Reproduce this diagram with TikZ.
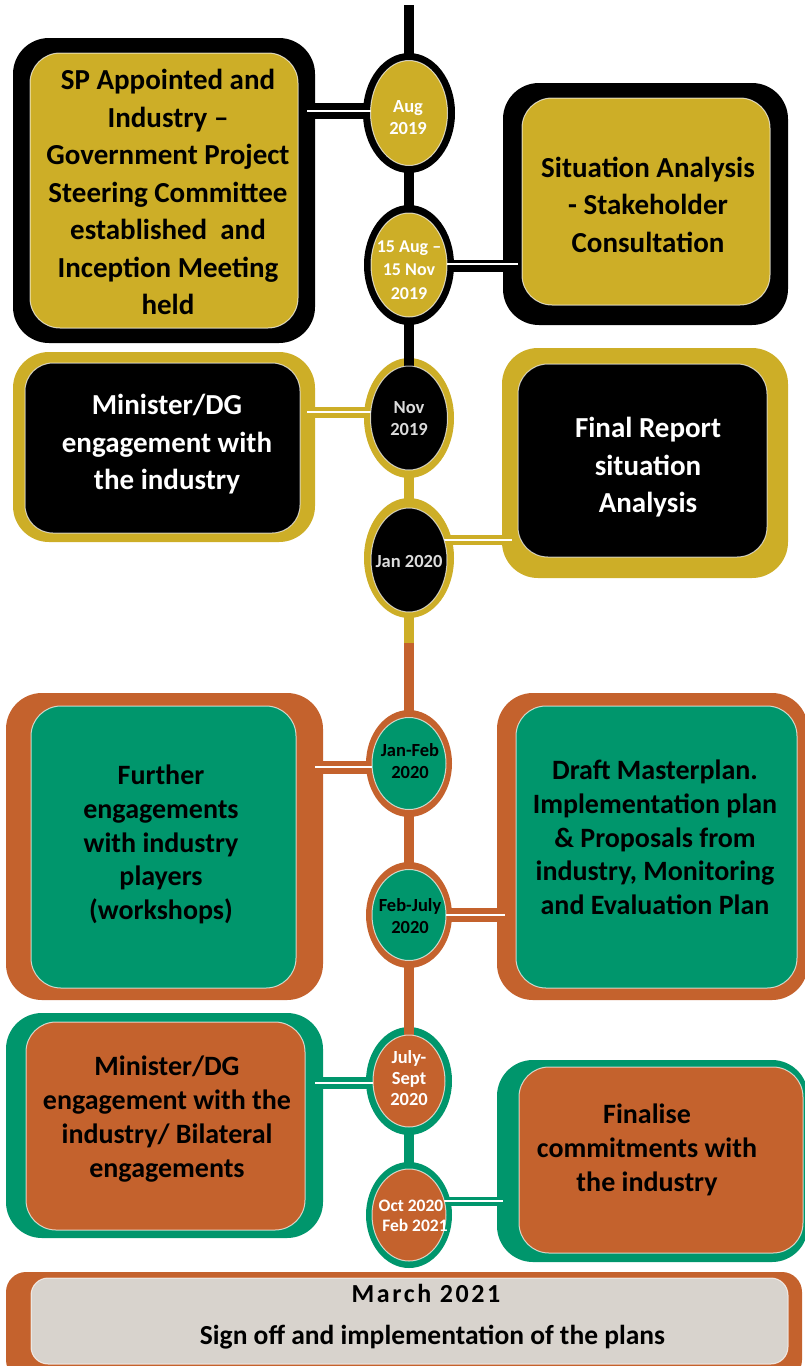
\documentclass[tikz,border=0pt]{standalone}
\usepackage{fontspec}
\setmainfont{Carlito}
\usetikzlibrary{shapes.geometric,calc}
\definecolor{gold}{HTML}{CDAE27}
\definecolor{rust}{HTML}{C4622D}
\definecolor{jade}{HTML}{00966C}
\definecolor{stone}{HTML}{D8D3CD}
\definecolor{pale}{HTML}{DCDCDC}
\begin{document}
\begin{tikzpicture}[x=1pt,y=-1pt,
  frame/.style={rectangle, rounded corners=36pt, inner sep=0pt, draw=none},
  panel/.style={rectangle, rounded corners=30pt, inner sep=0pt, draw=white, draw opacity=0.7, line width=1pt},
  ring/.style={ellipse, inner sep=0pt, draw=none},
  core/.style={ellipse, inner sep=0pt, draw=white, draw opacity=0.7, line width=1pt},
  big/.style={font=\fontsize{29}{37.5}\selectfont\bfseries, align=center, inner sep=0pt},
  mid/.style={font=\fontsize{28}{33.75}\selectfont\bfseries, align=center, inner sep=0pt},
  datetext/.style={font=\fontsize{18.5}{22}\selectfont\bfseries, align=center, inner sep=0pt},
  band/.style={line width=#1},
  wl/.style={draw=white, line width=1.2pt},
  track/.style={line width=10pt}]
\useasboundingbox (0,0) rectangle (805,1366);
\clip (0,0) rectangle (805,1366);

% ---------- outer frames ----------
\node[frame, fill=black, minimum width=302pt, minimum height=305pt] (b1o) at (164,190.5) {};
\node[frame, fill=black, minimum width=285pt, minimum height=242pt] (b2o) at (645.5,204) {};
\node[frame, fill=gold, minimum width=302pt, minimum height=190pt] (b3o) at (164,447) {};
\node[frame, fill=gold, minimum width=286pt, minimum height=230pt] (b4o) at (645,463) {};
\node[frame, fill=rust, minimum width=317pt, minimum height=307pt] (b5o) at (164.5,846.5) {};
\node[frame, fill=rust, minimum width=311pt, minimum height=307pt] (b6o) at (652.5,846.5) {};
\node[frame, fill=jade, minimum width=317pt, minimum height=225pt] (b7o) at (164.5,1125.5) {};
\node[frame, fill=jade, minimum width=311pt, minimum height=202pt] (b8o) at (652.5,1161) {};
\node[frame, rounded corners=20pt, fill=rust, minimum width=796pt, minimum height=108pt] (b9o) at (404,1326) {};

% ---------- outer rings ----------
\node[ring, fill=black, minimum width=92pt, minimum height=120pt] (aug-o) at (409,113) {};
\node[ring, fill=black, minimum width=90pt, minimum height=120pt] (mid-o) at (409,265) {};
\node[ring, fill=gold, minimum width=90pt, minimum height=120pt] (nov-o) at (409,418) {};
\node[ring, fill=gold, minimum width=90pt, minimum height=120pt] (jan-o) at (409,558) {};
\node[ring, fill=rust, minimum width=86pt, minimum height=107pt] (jf-o) at (409,763.5) {};
\node[ring, fill=rust, minimum width=86pt, minimum height=106pt] (fj-o) at (409,915) {};
\node[ring, fill=jade, minimum width=86pt, minimum height=108pt] (js-o) at (409,1081) {};
\node[ring, fill=jade, minimum width=86pt, minimum height=106pt] (oc-o) at (409,1215) {};

% ---------- timeline ----------
\coordinate (top) at (409,5);
\coordinate (switch) at (409,643);
\draw[track, black] (top) -- (nov-o.center);
\draw[track, gold] (nov-o.center) -- (switch);
\draw[track, rust] (switch) -- (js-o.center);
\draw[track, jade] (js-o.center) -- (oc-o.center);

% ---------- connectors ----------
\coordinate (c1) at (409,111);
\coordinate (c2) at (409,266);
\coordinate (c3) at (409,412);
\coordinate (c4) at (409,540);
\coordinate (c5) at (409,767);
\coordinate (c6) at (409,915);
\coordinate (c7) at (409,1083);
\coordinate (c8) at (409,1201);
\draw[band=16pt, black] (c1) -- (c1 -| b1o.center);
\draw[wl] (c1) -- ([xshift=-8pt]c1 -| b1o.east);
\draw[band=12pt, black] (c2) -- (c2 -| b2o.center);
\draw[wl] ([yshift=2pt]c2) -- ([xshift=15pt,yshift=2pt]c2 -| b2o.west);
\draw[band=11pt, gold] (c3) -- (c3 -| b3o.center);
\draw[wl] (c3) -- ([xshift=-8pt]c3 -| b3o.east);
\draw[band=10pt, gold] (c4) -- (c4 -| b4o.center);
\draw[wl] (c4) -- ([xshift=10pt]c4 -| b4o.west);
\draw[band=13pt, rust] (c5) -- (c5 -| b5o.center);
\draw[wl] (c5) -- ([xshift=-8pt]c5 -| b5o.east);
\draw[band=14pt, rust] (c6) -- (c6 -| b6o.center);
\draw[wl] (c6) -- ([xshift=8pt]c6 -| b6o.west);
\draw[band=12pt, jade] (c7) -- (c7 -| b7o.center);
\draw[wl] (c7) -- ([xshift=-8pt]c7 -| b7o.east);
\draw[band=9pt, jade] (c8) -- (c8 -| b8o.center);
\draw[wl] (c8) -- ([xshift=6pt]c8 -| b8o.west);

% ---------- inner panels ----------
\node[panel, fill=gold, minimum width=268pt, minimum height=275pt] (b1) at (164,190.5) {};
\node[panel, fill=gold, minimum width=248pt, minimum height=207pt] (b2) at (646,201.5) {};
\node[panel, fill=black, rounded corners=28pt, minimum width=275pt, minimum height=170pt] (b3) at (162.5,448) {};
\node[panel, fill=black, minimum width=249pt, minimum height=193pt] (b4) at (642.5,460.5) {};
\node[panel, fill=jade, minimum width=265pt, minimum height=282pt] (b5) at (163.5,847) {};
\node[panel, fill=jade, minimum width=281pt, minimum height=282pt] (b6) at (656.5,847) {};
\node[panel, fill=rust, minimum width=279pt, minimum height=208pt] (b7) at (165.5,1126) {};
\node[panel, fill=rust, minimum width=284pt, minimum height=186pt] (b8) at (661,1160) {};
\node[panel, rounded corners=17pt, fill=stone, minimum width=757pt, minimum height=86pt] (b9) at (409.5,1321) {};

% ---------- inner cores ----------
\node[core, fill=gold, minimum width=77pt, minimum height=105pt] (aug) at (409,113) {};
\node[core, fill=gold, minimum width=76pt, minimum height=104pt] (mid) at (409,265) {};
\node[core, fill=black, minimum width=77pt, minimum height=104pt] (nov) at (409,418) {};
\node[core, fill=black, minimum width=76pt, minimum height=104pt] (jan) at (409,560) {};
\node[core, fill=jade, minimum width=74pt, minimum height=92pt] (jf) at (409,763.5) {};
\node[core, fill=jade, minimum width=74pt, minimum height=91pt] (fj) at (409,915) {};
\node[core, fill=rust, minimum width=72pt, minimum height=92pt] (js) at (409,1081) {};
\node[core, fill=rust, minimum width=74pt, minimum height=92pt] (oc) at (409,1215) {};

% ---------- box texts ----------
\node[big, text=black] (t1) at (168,192) {SP Appointed and\\Industry –\\Government Project\\Steering Committee\\established\ \ and\\Inception Meeting\\held};
\node[big, text=black] (t2) at (648,204.5) {Situation Analysis\\- Stakeholder\\Consultation};
\node[big, text=white] (t3) at (167,444.5) {Minister/DG\\engagement with\\the industry};
\node[big, text=white] (t4) at (648,467.5) {Final Report\\situation\\Analysis};
\node[mid, text=black] (t5) at (161,844.5) {Further\\engagements\\with industry\\players\\(workshops)};
\node[mid, text=black] (t6) at (655,837.5) {Draft Masterplan.\\Implementation plan\\\& Proposals from\\industry, Monitoring\\and Evaluation Plan};
\node[mid, text=black] (t7) at (167,1119) {Minister/DG\\engagement with the\\industry/ Bilateral\\engagements};
\node[mid, text=black] (t8) at (647,1150) {Finalise\\commitments with\\the industry};
\node[inner sep=0pt, text=black, font=\fontsize{26}{30}\selectfont\bfseries\addfontfeatures{LetterSpace=10}] (t9) at (426,1293) {March 2021};
\node[inner sep=0pt, text=black, font=\fontsize{27.5}{30}\selectfont\bfseries] (t10) at (432.5,1337) {Sign off and implementation of the plans};

% ---------- date texts ----------
\node[datetext, text=white] (d1) at (408,117.5) {Aug\\2019};
\node[datetext, text=white, font=\fontsize{18}{23.5}\selectfont\bfseries] (d2) at (409,270) {15 Aug –\\15 Nov\\2019};
\node[datetext, text=pale] (d3) at (409,419) {Nov\\2019};
\node[datetext, text=pale] (d4) at (409,561) {Jan 2020};
\node[datetext, text=black] (d5) at (410,761) {Jan-Feb\\2020};
\node[datetext, text=black] (d6) at (410,916.5) {Feb-July\\2020};
\node[datetext, text=white, font=\fontsize{18.5}{21}\selectfont\bfseries] (d7) at (409,1078) {July-\\Sept\\2020};
\node[datetext, text=white, font=\fontsize{17.5}{20}\selectfont\bfseries] (d8) at (411,1216) {Oct 2020\\\hspace*{8pt}Feb 2021};
\end{tikzpicture}
\end{document}
